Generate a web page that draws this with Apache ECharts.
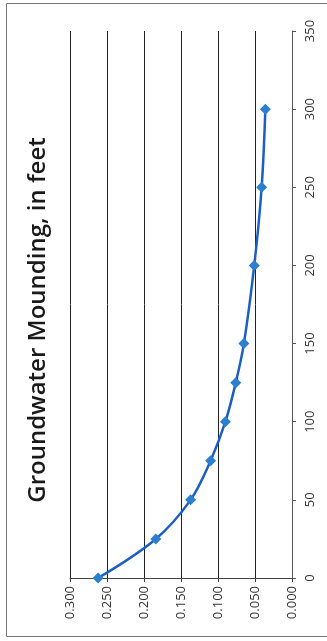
<!DOCTYPE html>
<html>
<head>
<meta charset="utf-8">
<script src="https://cdn.jsdelivr.net/npm/echarts@6/dist/echarts.min.js"></script>
<style>
html,body{margin:0;padding:0;background:#fff;}
#chart{width:327px;height:641px;}
</style>
</head>
<body>
<div id="chart"></div>
<script>
const distances = [0, 25, 50, 75, 100, 125, 150, 200, 250, 300];
const mounding = [0.262, 0.184, 0.137, 0.110, 0.090, 0.076, 0.065, 0.051, 0.041, 0.036];
const titleText = 'Groundwater Mounding, in feet';

const chart = echarts.init(document.getElementById('chart'), null, {renderer: 'canvas'});
const pts = distances.map((d, i) => [mounding[i], d]);
const FONT = 'Open Sans';
chart.setOption({
  animation: false,
  backgroundColor: '#fff',
  grid: {left: 70, right: 35, top: 31, bottom: 63, containLabel: false},
  xAxis: {
    type: 'value', min: 0, max: 0.3, interval: 0.05, inverse: true, position: 'bottom',
    axisLine: {show: true, lineStyle: {color: '#444', width: 1}},
    axisTick: {show: true, length: 4, lineStyle: {color: '#444'}},
    splitLine: {show: true, lineStyle: {color: '#222', width: 1}},
    axisLabel: {rotate: 90, margin: 8, color: '#333', fontFamily: FONT, fontSize: 13,
      formatter: v => v.toFixed(3)}
  },
  yAxis: {
    type: 'value', min: 0, max: 350, interval: 50, position: 'right',
    axisLine: {show: true, lineStyle: {color: '#555', width: 1}},
    axisTick: {show: true, length: 4, lineStyle: {color: '#555'}},
    splitLine: {show: false},
    axisLabel: {rotate: 90, margin: 12, color: '#333', fontFamily: FONT, fontSize: 13}
  },
  graphic: [
    {type: 'rect', shape: {x: 6.5, y: 3.5, width: 340, height: 633}, style: {fill: 'none', stroke: '#777', lineWidth: 1}, z: -1},
    {type: 'text', x: 38, y: 320, rotation: Math.PI / 2,
      style: {text: titleText, fontFamily: FONT, fontSize: 24, fontWeight: 600, fill: '#1a1a1a', align: 'center', verticalAlign: 'middle'}}
  ],
  series: [{
    type: 'line', data: pts, smooth: 0.35,
    symbol: 'diamond', symbolSize: 11,
    lineStyle: {color: '#1b5fc4', width: 2.5},
    itemStyle: {color: '#2c7fcf'}
  }]
});
</script>
</body>
</html>
